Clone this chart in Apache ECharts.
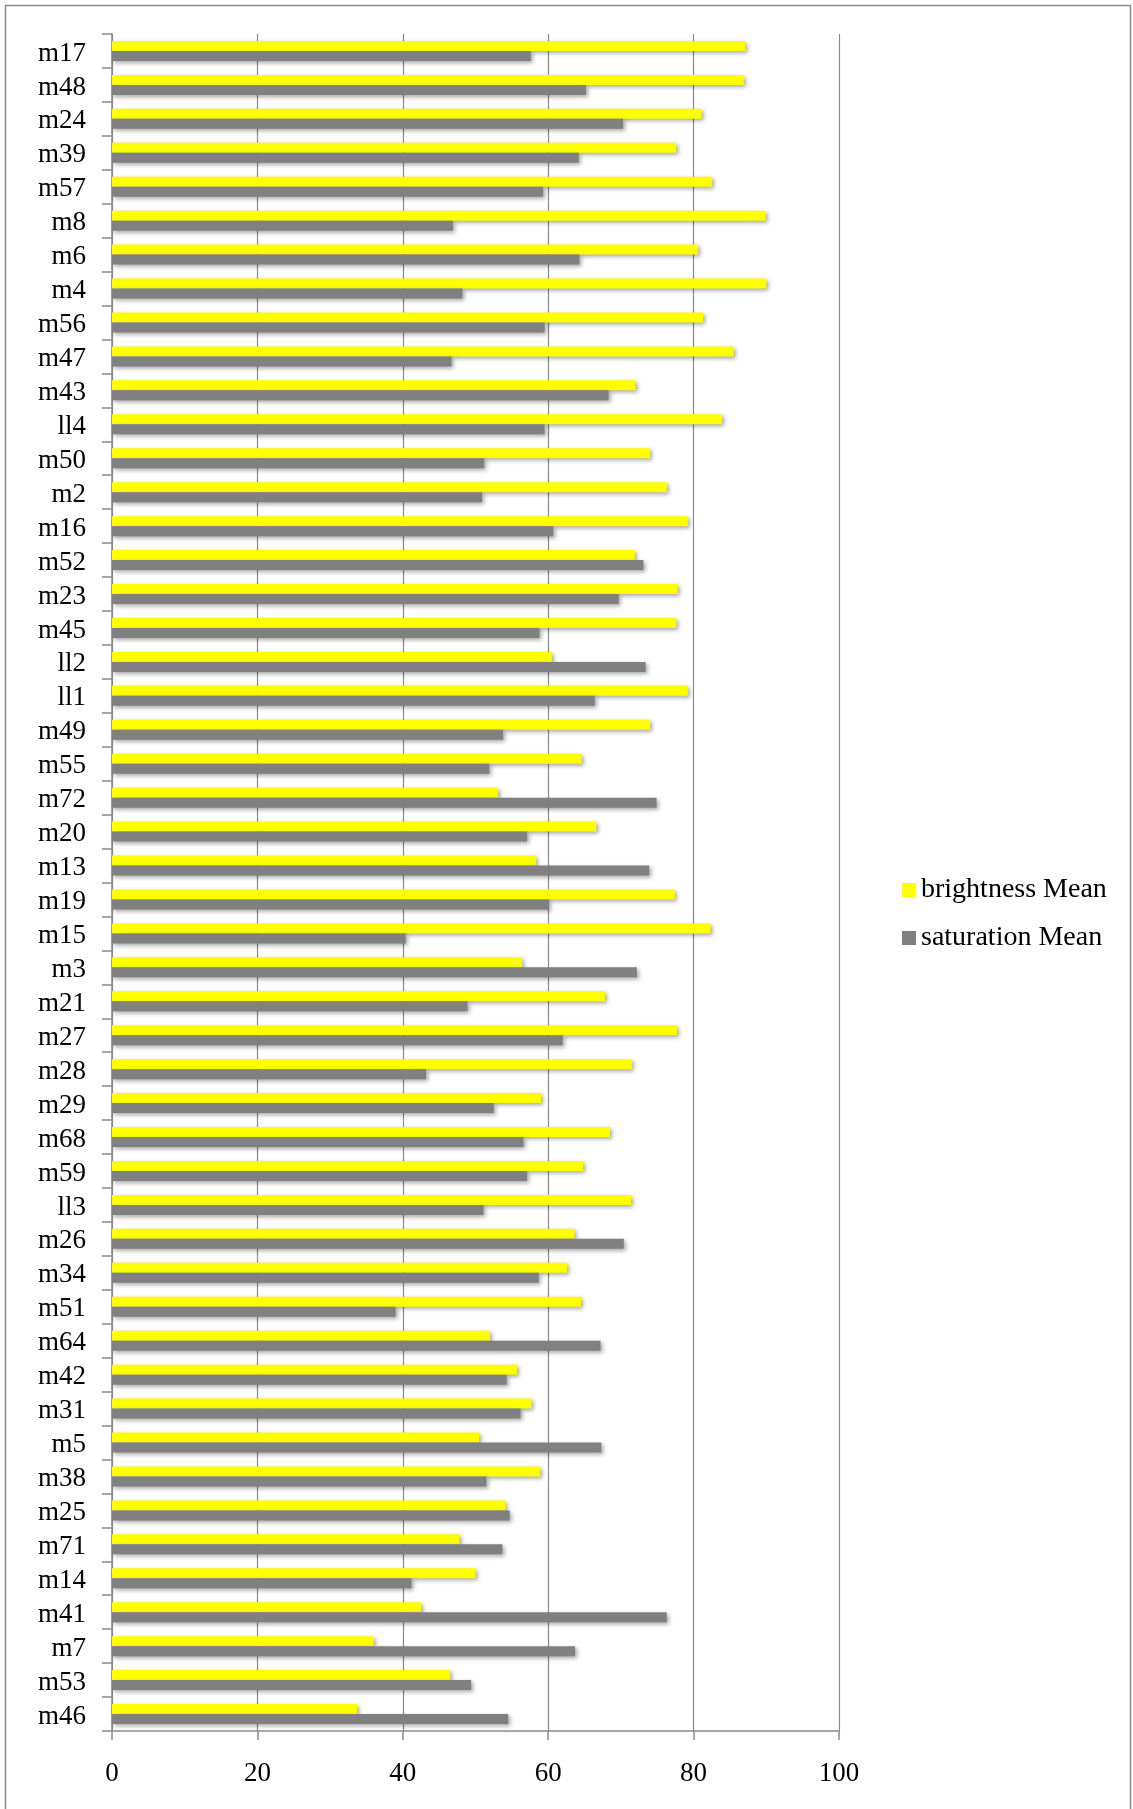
<!DOCTYPE html>
<html>
<head>
<meta charset="utf-8">
<script src="https://cdn.jsdelivr.net/npm/echarts@6/dist/echarts.min.js"></script>
<style>
html,body{margin:0;padding:0;background:#fff;}
#chart{width:1133px;height:1809px;}
</style>
</head>
<body>
<div id="chart"></div>
<script>
const categories = ['m17','m48','m24','m39','m57','m8','m6','m4','m56','m47','m43','ll4','m50','m2','m16','m52','m23','m45','ll2','ll1','m49','m55','m72','m20','m13','m19','m15','m3','m21','m27','m28','m29','m68','m59','ll3','m26','m34','m51','m64','m42','m31','m5','m38','m25','m71','m14','m41','m7','m53','m46'];
const brightnessMean = [87.1,86.9,81.1,77.6,82.5,89.9,80.6,90.0,81.3,85.5,72.0,83.9,74.0,76.3,79.2,71.9,77.8,77.6,60.5,79.2,74.0,64.6,53.1,66.6,58.3,77.4,82.3,56.4,67.8,77.7,71.5,59.0,68.5,64.8,71.4,63.6,62.6,64.5,52.0,55.7,57.7,50.5,58.9,54.1,47.8,50.0,42.5,36.0,46.5,33.7];
const saturationMean = [57.6,65.2,70.3,64.2,59.3,46.9,64.3,48.2,59.5,46.7,68.3,59.5,51.2,50.9,60.7,73.1,69.7,58.8,73.4,66.4,53.8,51.9,74.9,57.1,73.9,60.1,40.4,72.2,48.9,62.0,43.2,52.5,56.6,57.1,51.1,70.4,58.7,39.0,67.2,54.3,56.2,67.3,51.5,54.7,53.7,41.2,76.3,63.7,49.4,54.5];
const seriesNames = ['brightness Mean','saturation Mean'];
const xTicks = {min:0, max:100, interval:20};

const chart = echarts.init(document.getElementById('chart'), null, {renderer:'canvas'});
const font = 'Liberation Serif';
const barShadow = {shadowColor:'rgba(0,0,0,0.35)', shadowBlur:4, shadowOffsetX:2, shadowOffsetY:2};
chart.setOption({
  animation:false,
  backgroundColor:'#fff',
  graphic:[{
    type:'rect', shape:{x:5.5, y:5.5, width:1125, height:1830},
    style:{fill:'none', stroke:'#8a8a8a', lineWidth:1.5}, silent:true
  }],
  legend:{
    orient:'vertical', left:897, top:871,
    itemWidth:14, itemHeight:14, itemGap:20,
    icon:'rect',
    textStyle:{fontFamily:font, fontSize:28, color:'#000'},
    data:seriesNames
  },
  grid:{left:112, right:294, top:34, bottom:78, containLabel:false},
  xAxis:{
    type:'value', min:xTicks.min, max:xTicks.max, interval:xTicks.interval,
    axisLine:{show:true, lineStyle:{color:'#8a8a8a', width:1.5}},
    axisTick:{show:true, length:9, lineStyle:{color:'#8a8a8a', width:1.5}},
    axisLabel:{fontFamily:font, fontSize:27, color:'#000', margin:29},
    splitLine:{show:true, lineStyle:{color:'#8a8a8a', width:1.2}}
  },
  yAxis:{
    type:'category', data:categories, inverse:true,
    axisLine:{show:true, lineStyle:{color:'#8a8a8a', width:1.5}},
    axisTick:{show:true, length:10, lineStyle:{color:'#8a8a8a', width:1.5}},
    axisLabel:{margin:26, interval:0,
      formatter: v => '{a|' + v + '}',
      rich:{a:{fontFamily:font, fontSize:27, color:'#000', padding:[5,0,0,0]}}},
    splitLine:{show:false}
  },
  series:[
    {name:seriesNames[0], type:'bar', data:brightnessMean, barWidth:10, barGap:'0%',
     itemStyle:Object.assign({color:'#FFFF00'}, barShadow)},
    {name:seriesNames[1], type:'bar', data:saturationMean, barWidth:10, barGap:'0%',
     itemStyle:Object.assign({color:'#808080'}, barShadow)}
  ]
});
</script>
</body>
</html>
